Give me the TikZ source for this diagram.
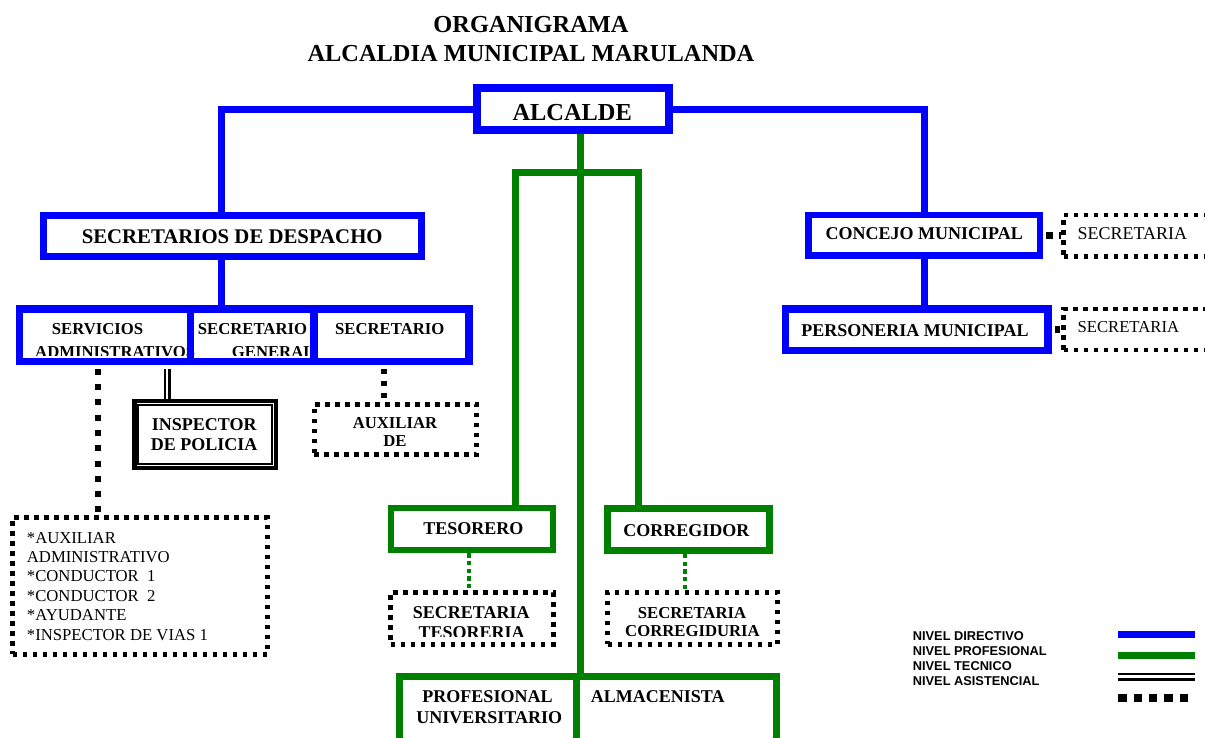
\documentclass[tikz,border=0pt]{standalone}
\usepackage{fontspec}
\setmainfont{Liberation Serif}
\newfontfamily\leyendafont{Liberation Sans}
\definecolor{dirblue}{RGB}{0,0,255}
\definecolor{profgreen}{RGB}{0,128,0}
\tikzset{
  cajadir/.style={draw=dirblue, line width=7.5pt, inner sep=0pt},
  cajaprof/.style={draw=profgreen, line width=7pt, inner sep=0pt},
  cajaasis/.style={draw=black, line width=5pt, dash pattern=on 4.5pt off 5.5pt, inner sep=0pt},
  cajatec/.style={draw=black, line width=4.3pt, inner sep=0pt},
  directivo/.style={draw=dirblue, line width=7pt},
  profesional/.style={draw=profgreen, line width=6.5pt},
  profpunteado/.style={draw=profgreen, line width=4pt, dash pattern=on 4.3pt off 3.4pt},
  asistencial/.style={draw=black, line width=6pt, dash pattern=on 6pt off 9.3pt},
  tecnico/.style={draw=black, double, line width=2.5pt, double distance=2.4pt},
  titulo/.style={font=\fontsize{24.4pt}{28pt}\selectfont\bfseries, anchor=base, inner sep=0pt},
  cargog/.style={font=\fontsize{20.8pt}{24pt}\selectfont\bfseries, anchor=base, inner sep=0pt},
  cargo/.style={font=\fontsize{18pt}{21pt}\selectfont\bfseries, anchor=base, inner sep=0pt},
  cargop/.style={font=\fontsize{16.7pt}{20pt}\selectfont\bfseries, anchor=base, inner sep=0pt},
  plano/.style={font=\fontsize{18pt}{21pt}\selectfont, anchor=base west, inner sep=0pt},
  planop/.style={font=\fontsize{16.7pt}{20pt}\selectfont, anchor=base west, inner sep=0pt},
  leyenda/.style={font=\leyendafont\fontsize{12.8pt}{15pt}\selectfont\bfseries, anchor=base west, inner sep=0pt}
}
\begin{document}
\begin{tikzpicture}[x=1pt, y=-1pt]
\useasboundingbox (0,0) rectangle (1205,738);
\fill[white] (0,0) rectangle (1205,738);
% titulo
\node[titulo] (tit1) at (531,33) {ORGANIGRAMA};
\node[titulo] (tit2) at (531,61.7) {ALCALDIA MUNICIPAL MARULANDA};
% nivel directivo
\node[cajadir, line width=8pt, minimum width=192.7pt, minimum height=41.5pt] (alcalde) at (573,109.2) {};
\node[titulo] (alcaldeT) at (572.2,120.7) {ALCALDE};
\node[cajadir, line width=7pt, minimum width=378pt, minimum height=41.3pt] (despacho) at (232.5,235.8) {};
\node[cargog] (despachoT) at (232.2,243.3) {SECRETARIOS DE DESPACHO};
\node[cajadir, line width=6.5pt, minimum width=231.3pt, minimum height=40.7pt] (concejo) at (924.3,235.3) {};
\node[cargo] (concejoT) at (924.2,240) {CONCEJO MUNICIPAL};
\node[cajadir, minimum width=262.5pt, minimum height=41.7pt] (personeria) at (916.7,329.7) {};
\node[cargo] (personeriaT) at (915,336) {PERSONERIA MUNICIPAL};
% fila de secretarios (texto debajo del borde)
\begin{scope}
  \clip (0,300) rectangle (480,355.5);
  \node[cargop, anchor=base west] (servT1) at (51.7,334.3) {SERVICIOS};
  \node[cargop, anchor=base west] (servT2) at (35,357.7) {ADMINISTRATIVOS};
  \node[cargop, anchor=base west] (genT1) at (197.7,334.3) {SECRETARIO};
  \node[cargop, anchor=base west] (genT2) at (231.7,357.7) {GENERAL};
  \node[cargop, anchor=base west] (secT) at (335,334.3) {SECRETARIO};
\end{scope}
\node[cajadir, minimum width=170.75pt, minimum height=52.5pt] (servicios) at (105.1,335) {};
\node[cajadir, minimum width=123.3pt, minimum height=52.5pt] (general) at (252.15,335) {};
\node[cajadir, minimum width=155.1pt, minimum height=52.5pt] (secretario) at (391.35,335) {};
% secretarias a la derecha
\node[cajaasis, line width=4.5pt, minimum width=166.5pt, minimum height=41.7pt] (secr1) at (1146.75,235.8) {};
\node[plano] (secr1T) at (1077.3,240) {SECRETARIA};
\node[cajaasis, line width=4.5pt, minimum width=166.5pt, minimum height=41pt] (secr2) at (1146.75,329.5) {};
\node[planop] (secr2T) at (1077.3,332.7) {SECRETARIA};
% inspector y auxiliares
\node[cajatec, minimum width=141.7pt, minimum height=66.8pt] (inspector) at (205.3,434.6) {};
\draw[line width=2.3pt] ([shift={(6pt,6pt)}]inspector.south west) rectangle ([shift={(-6pt,-6pt)}]inspector.north east);
\node[cargo] (inspT1) at (204.2,430) {INSPECTOR};
\node[cargo] (inspT2) at (204.2,450) {DE POLICIA};
\node[cajaasis, minimum width=162.5pt, minimum height=50.5pt] (auxiliar) at (395.3,429.5) {};
\node[cargop] (auxT1) at (395,428.3) {AUXILIAR};
\node[cargop] (auxT2) at (395,446.7) {DE};
\node[cajaasis, minimum width=255pt, minimum height=136.4pt] (lista) at (140,586) {};
\foreach \linea [count=\i from 0] in {*AUXILIAR, ADMINISTRATIVO, *CONDUCTOR~~1, *CONDUCTOR~~2, *AYUDANTE, *INSPECTOR DE VIAS 1}
  \node[planop] (lista\i) at (26.7,543.3+19.34*\i) {\linea};
% nivel profesional
\node[cajaprof, line width=6pt, minimum width=161.7pt, minimum height=42.3pt] (tesorero) at (472.2,529.2) {};
\node[cargo] (tesoreroT) at (473.3,534) {TESORERO};
\node[cajaprof, minimum width=161.7pt, minimum height=42pt] (corregidor) at (688.3,529.5) {};
\node[cargo] (corregidorT) at (686.3,536) {CORREGIDOR};
\node[cajaasis, minimum width=162.7pt, minimum height=51.7pt] (sectes) at (472.2,618.3) {};
\node[cargo] (sectesT1) at (471.2,618.3) {SECRETARIA};
\begin{scope}
  \clip (380,600) rectangle (560,636.7);
  \node[cargo] (sectesT2) at (471.7,638.6) {TESORERIA};
\end{scope}
\node[cajaasis, minimum width=170pt, minimum height=51.7pt] (seccor) at (692.5,618.3) {};
\node[cargop] (seccorT1) at (692,618.3) {SECRETARIA};
\node[cargop] (seccorT2) at (692.5,636.7) {CORREGIDURIA};
\node[cajaprof, minimum width=177.3pt, minimum height=68.2pt] (prof) at (488.15,710.9) {};
\node[cajaprof, minimum width=199.7pt, minimum height=68.2pt] (alm) at (676.65,710.9) {};
\node[cargo] (profT1) at (487.5,702.7) {PROFESIONAL};
\node[cargo] (profT2) at (489.2,723.3) {UNIVERSITARIO};
\node[cargo, anchor=base west] (almT) at (590.7,702.7) {ALMACENISTA};
% puntos de enlace
\coordinate (dArr) at ([xshift=-10.8pt]despacho.north);
\coordinate (dAbj) at ([xshift=-10.8pt]despacho.south);
\coordinate (sIzq) at ([xshift=-7.6pt]servicios.south);
\coordinate (sDer) at ([xshift=62.1pt]servicios.south);
\coordinate (scAbj) at ([xshift=-7.55pt]secretario.south);
\coordinate (tArr) at ([xshift=43.3pt]tesorero.north);
\coordinate (cArr) at ([xshift=-50pt]corregidor.north);
\coordinate (tAbj) at ([xshift=-3.5pt]tesorero.south);
\coordinate (cAbj) at ([xshift=-3pt]corregidor.south);
\coordinate (gbar) at (576.7,172.5);
% lineas
\draw[directivo] (alcalde.west) -| (dArr);
\draw[directivo] (alcalde.east) -| (concejo.north);
\draw[directivo] (dAbj) -- (dAbj |- general.north);
\draw[directivo] (concejo.south) -- (concejo.south |- personeria.north);
\draw[profesional] (tArr) |- (gbar) -| (cArr);
\draw[profesional] (alcalde.south -| prof.north east) -- (prof.north east);
\draw[profpunteado] (tAbj) -- (tAbj |- sectes.north);
\draw[profpunteado] (cAbj) -- (cAbj |- seccor.north);
\draw[asistencial, shorten <=3.75pt] (sIzq) -- (sIzq |- lista.north);
\draw[asistencial, line width=5.5pt, dash pattern=on 5pt off 7pt, shorten <=3.75pt] (scAbj) -- (scAbj |- auxiliar.north);
\draw[tecnico, shorten <=3.75pt] (sDer) -- (sDer |- inspector.north);
\draw[asistencial, line width=6.7pt, dash pattern=on 7pt off 6pt, shorten <=3.25pt] (concejo.east) -- (concejo.east -| secr1.west);
\draw[asistencial, line width=6.7pt, dash pattern=on 5pt off 6pt, shorten <=3.75pt] (personeria.east) -- (personeria.east -| secr2.west);
% leyenda
\node[leyenda] (ley1) at (912.7,640) {NIVEL DIRECTIVO};
\node[leyenda] (ley2) at (912.7,655) {NIVEL PROFESIONAL};
\node[leyenda] (ley3) at (912.7,670) {NIVEL TECNICO};
\node[leyenda] (ley4) at (912.7,685) {NIVEL ASISTENCIAL};
\draw[dirblue, line width=7.6pt] (1118.3,634.5) -- (1195,634.5);
\draw[profgreen, line width=7pt] (1118.3,655.8) -- (1195,655.8);
\draw[double, line width=2.3pt, double distance=3.4pt] (1118.3,676.65) -- (1195,676.65);
\draw[line width=7.7pt, dash pattern=on 8.3pt off 7pt] (1118.3,697.8) -- (1188,697.8);
\end{tikzpicture}
\end{document}
